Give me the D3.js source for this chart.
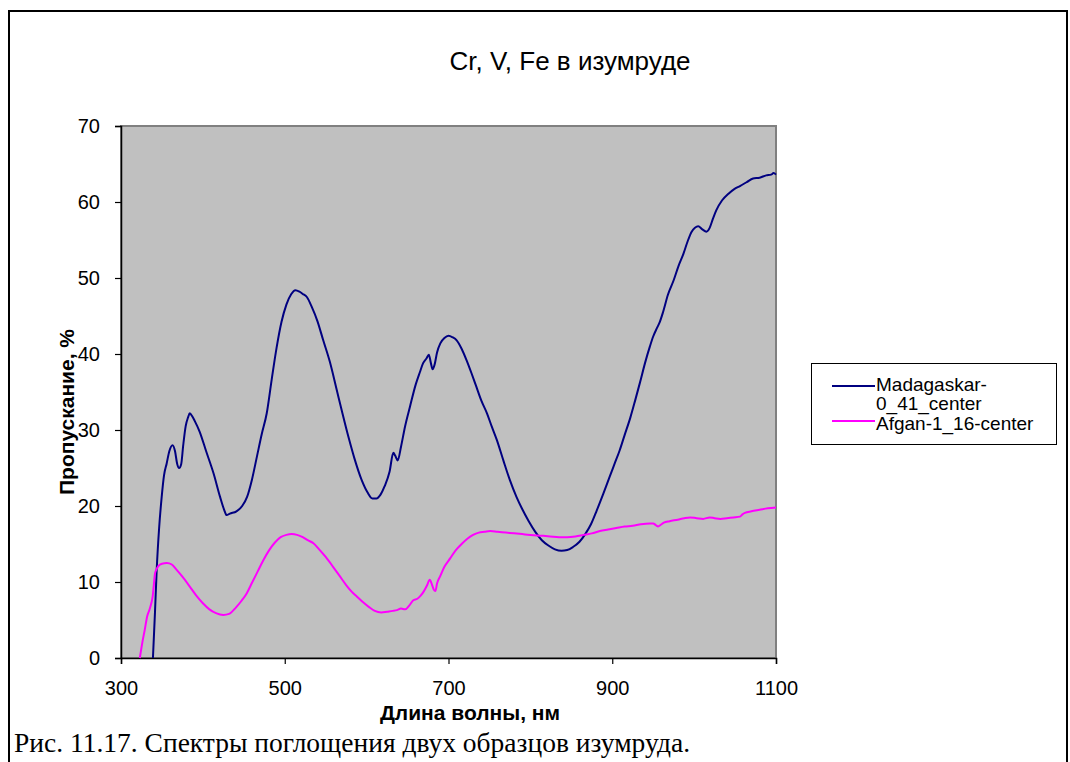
<!DOCTYPE html>
<html>
<head>
<meta charset="utf-8">
<script src="https://cdn.jsdelivr.net/npm/d3@7"></script>
<style>
  html, body { margin: 0; padding: 0; background: #fff; }
  svg { display: block; }
</style>
</head>
<body>
<svg id="chart" width="1070" height="762"></svg>
<script>
// Transmission spectra of two emerald samples: [wavelength nm, transmission %]
const madagaskar = [
  [339,0],[341.5,6],[343.6,11.6],[346.5,17],[349.7,21.2],[352.5,24],[355.8,25.6],[359,27.2],[363,28.0],
  [366,27.2],[368.5,25.6],[371,25.0],[373.5,25.5],[376,28],[379,30.5],[382,31.7],[384,32.2],[387,31.8],
  [390,31.2],[396,29.8],[404,27.2],[413,24.3],[421,21.2],[426,19.5],[429,18.8],[433,19.0],[441,19.3],
  [448,20.0],[454,21.2],[460,23.5],[466,26.5],[472,29.5],[478,32.2],[484,36.6],[490,40.8],[496,44.2],
  [502,46.5],[508,47.9],[513,48.4],[518,48.2],[522,47.9],[527,47.5],[533,46.2],[540,44.3],[547,41.8],
  [555,39.0],[563,35.5],[570,32.4],[578,29.0],[585,26.3],[594,23.4],[601,21.8],[607,21.0],[612,21.0],
  [617,21.5],[622,22.6],[628,24.5],[632.6,27.0],[635,26.6],[638,26.0],[642,27.8],[647,30.5],[653,33.1],
  [660,36.0],[665,37.6],[669,38.8],[673,39.4],[676,39.9],[678.5,38.8],[680.6,38.0],[683,38.6],[686,40.2],
  [690,41.4],[695,42.1],[700,42.4],[705,42.2],[710,41.8],[716,40.7],[722,39.2],[728,37.5],[734,35.7],
  [740,33.9],[747,32.2],[753,30.4],[759,28.7],[767,26.0],[775,23.4],[783,21.2],[790,19.6],[798,18.0],
  [806,16.6],[814,15.5],[822,14.8],[830,14.3],[838,14.1],[845,14.2],[852,14.6],[860,15.3],[867,16.3],
  [874,17.6],[881,19.4],[889,21.6],[897,23.9],[903,25.6],[909,27.3],[915,29.3],[922,31.6],[928,33.9],
  [934,36.3],[940,38.8],[946,41.0],[950,42.3],[955,43.5],[958,44.2],[962,45.5],[968,47.8],[975,49.7],
  [981,51.6],[987,53.2],[992,54.8],[997,56.1],[1001,56.6],[1005,56.8],[1010,56.4],[1015,56.1],[1019,56.6],
  [1023,57.8],[1027,58.9],[1034,60.2],[1042,61.1],[1049,61.7],[1056,62.1],[1064,62.6],[1072,63.1],
  [1080,63.2],[1088,63.5],[1094,63.6],[1097,63.8],[1100,63.6]
];

const afgan = [
  [323,0],[326,2],[329,3.7],[332,5.5],[334.6,6.3],[337,7.2],[338.7,8.1],[340,9.5],[341.5,11.1],[343,11.6],
  [345.6,12.1],[350,12.4],[356,12.5],[362,12.3],[368,11.6],[375,10.7],[384,9.4],[392,8.2],[400,7.2],
  [408,6.4],[416,5.9],[425,5.66],[432,5.8],[440,6.6],[447,7.5],[453.5,8.5],[460,9.9],[467,11.4],[474,12.9],
  [481,14.2],[488,15.2],[495,15.9],[502,16.2],[508.5,16.3],[515,16.2],[522,15.9],[528,15.5],[535,15.1],
  [542,14.3],[550,13.3],[559,12.0],[567,10.8],[575,9.6],[582,8.7],[588,8.1],[595,7.4],[603,6.7],[610,6.2],
  [618,6.0],[625,6.1],[632,6.2],[637,6.3],[642,6.5],[647,6.4],[652,6.9],[657,7.6],[662,7.8],[666,8.2],
  [670,8.8],[674,9.6],[677,10.3],[680,9.6],[682,9.0],[684,8.8],[686,9.8],[690,10.8],[695,12.0],[702,13.1],
  [709,14.2],[716,15.0],[723,15.7],[730,16.2],[737,16.5],[744,16.6],[751,16.7],[760,16.6],[770,16.5],
  [780,16.4],[790,16.3],[800,16.2],[812,16.1],[824,16.0],[835,15.9],[845,15.9],[855,16.0],[865,16.2],
  [875,16.4],[885,16.7],[895,16.9],[905,17.1],[915,17.3],[925,17.4],[935,17.6],[946,17.7],[950,17.7],
  [953,17.5],[956,17.3],[959,17.5],[963,17.8],[970,18.0],[980,18.2],[988,18.4],[995,18.5],[1003,18.4],
  [1011,18.3],[1019,18.5],[1025,18.4],[1032,18.3],[1040,18.4],[1048,18.5],[1056,18.6],[1059,18.9],
  [1062,19.1],[1070,19.3],[1080,19.5],[1090,19.7],[1100,19.8]
];

const seriesNames = [["Madagaskar-", "0_41_center"], ["Afgan-1_16-center"]];
const seriesColors = ["#000080", "#ff00ff"];
const xTicks = [300, 500, 700, 900, 1100];
const yTicks = [0, 10, 20, 30, 40, 50, 60, 70];

const titleText = "Cr, V, Fe в изумруде";
const xTitle = "Длина волны, нм";
const yTitle = "Пропускание, %";
const caption = "Рис. 11.17. Спектры поглощения двух образцов изумруда.";

const svg = d3.select("#chart");
const sans = "'Liberation Sans', Arial, sans-serif";

// outer frame
svg.append("rect")
  .attr("x", 9).attr("y", 11).attr("width", 1058).attr("height", 760)
  .attr("fill", "#fff").attr("stroke", "#000").attr("stroke-width", 2);

const plot = { left: 121, right: 776, top: 126, bottom: 658 };

const x = d3.scaleLinear().domain([300, 1100]).range([plot.left, plot.right]);
const y = d3.scaleLinear().domain([0, 70]).range([plot.bottom, plot.top]);

// plot area
svg.append("rect")
  .attr("x", plot.left).attr("y", plot.top)
  .attr("width", plot.right - plot.left).attr("height", plot.bottom - plot.top)
  .attr("fill", "#c0c0c0").attr("stroke", "#808080").attr("stroke-width", 2);

// axes
const yAxis = d3.axisLeft(y).tickValues(yTicks).tickSize(6).tickPadding(15).tickFormat(d3.format("d"));
const gy = svg.append("g").attr("transform", `translate(${plot.left},0)`).call(yAxis);
const xAxis = d3.axisBottom(x).tickValues(xTicks).tickSize(6).tickPadding(17).tickFormat(d3.format("d"));
const gx = svg.append("g").attr("transform", `translate(0,${plot.bottom})`).call(xAxis);

[gx, gy].forEach(g => {
  g.select(".domain").attr("stroke", "#000").attr("stroke-width", 1.5);
  g.selectAll(".tick line").attr("stroke", "#000").attr("stroke-width", 1.2);
  g.selectAll(".tick text").attr("fill", "#000").style("font-family", sans).style("font-size", "20px");
});

// series lines
const line = d3.line().x(d => x(d[0])).y(d => y(d[1])).curve(d3.curveMonotoneX);
[madagaskar, afgan].forEach((data, i) => {
  svg.append("path")
    .datum(data)
    .attr("d", line)
    .attr("fill", "none")
    .attr("stroke", seriesColors[i])
    .attr("stroke-width", 2)
    .attr("stroke-linejoin", "round");
});

// title
svg.append("text")
  .attr("x", 570).attr("y", 70)
  .attr("text-anchor", "middle")
  .style("font-family", sans).style("font-size", "26px")
  .text(titleText);

// axis titles
svg.append("text")
  .attr("x", 470).attr("y", 720)
  .attr("text-anchor", "middle")
  .style("font-family", sans).style("font-size", "21px").style("font-weight", "bold")
  .text(xTitle);

svg.append("text")
  .attr("transform", "translate(74,412) rotate(-90)")
  .attr("text-anchor", "middle")
  .style("font-family", sans).style("font-size", "21px").style("font-weight", "bold")
  .text(yTitle);

// legend
const legend = svg.append("g");
legend.append("rect")
  .attr("x", 811.5).attr("y", 363.5).attr("width", 245).attr("height", 81)
  .attr("fill", "#fff").attr("stroke", "#000").attr("stroke-width", 1);
const legendLineY = [386, 421];
const legendBaselines = [[391, 410], [430]];
seriesNames.forEach((parts, i) => {
  legend.append("line")
    .attr("x1", 832).attr("x2", 875)
    .attr("y1", legendLineY[i]).attr("y2", legendLineY[i])
    .attr("stroke", seriesColors[i]).attr("stroke-width", 2);
  parts.forEach((part, j) => {
    legend.append("text")
      .attr("x", 876).attr("y", legendBaselines[i][j])
      .style("font-family", sans).style("font-size", "19px")
      .text(part);
  });
});

// caption under the chart
svg.append("text")
  .attr("x", 14).attr("y", 752)
  .style("font-family", "'Liberation Serif', 'Times New Roman', serif").style("font-size", "27.5px")
  .text(caption);
</script>
</body>
</html>
